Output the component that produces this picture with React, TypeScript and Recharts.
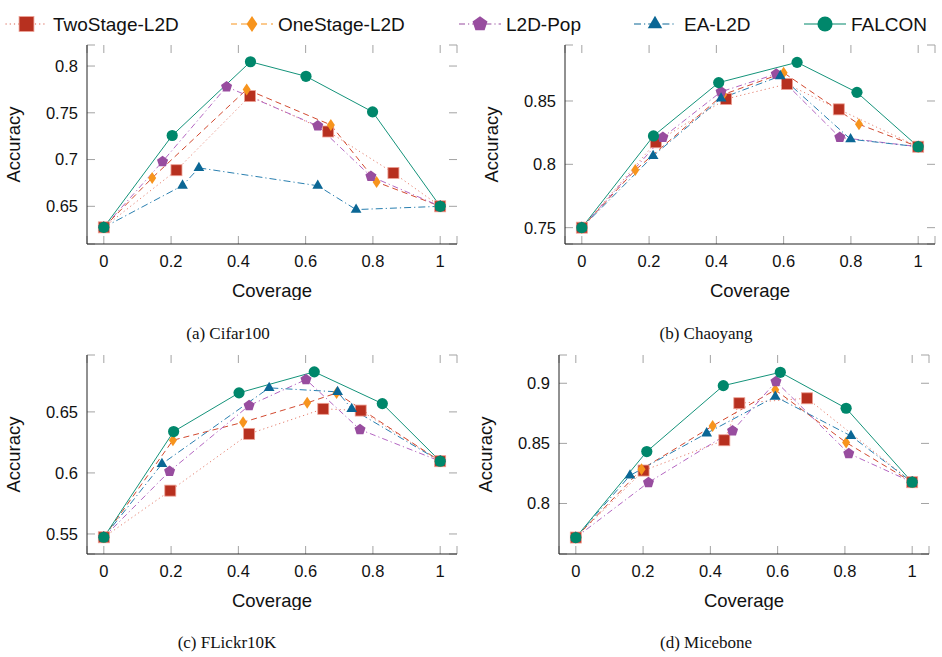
import React from 'react';
import { LineChart, Line, XAxis, YAxis, CartesianGrid } from 'recharts';

type Pt = [number, number];

// Shared coverage axis
const coverageTicks = [0, 0.2, 0.4, 0.6, 0.8, 1];
const coverageDomain: [number, number] = [-0.05, 1.05];

// (a) Cifar100 — [coverage, accuracy]
const cifarTwoStage: Pt[] = [[0, 0.6275], [0.216, 0.6886], [0.4345, 0.7679], [0.667, 0.730], [0.861, 0.6857], [1, 0.65]];
const cifarOneStage: Pt[] = [[0, 0.6275], [0.1438, 0.6804], [0.4247, 0.775], [0.675, 0.737], [0.811, 0.676], [1, 0.65]];
const cifarPop: Pt[] = [[0, 0.6275], [0.1746, 0.6979], [0.365, 0.7779], [0.636, 0.736], [0.794, 0.682], [1, 0.65]];
const cifarEA: Pt[] = [[0, 0.6275], [0.234, 0.6722], [0.2827, 0.6911], [0.636, 0.672], [0.75, 0.6465], [1, 0.65]];
const cifarFalcon: Pt[] = [[0, 0.6275], [0.2033, 0.7257], [0.436, 0.8046], [0.601, 0.789], [0.799, 0.751], [1, 0.65]];
const cifarTicks = [0.65, 0.7, 0.75, 0.8];
const cifarDomain: [number, number] = [0.6097, 0.8225];

// (b) Chaoyang
const chaoyangTwoStage: Pt[] = [[0, 0.75], [0.22, 0.8174], [0.429, 0.8516], [0.61, 0.8634], [0.764, 0.8434], [1, 0.8139]];
const chaoyangOneStage: Pt[] = [[0, 0.75], [0.159, 0.7955], [0.42, 0.855], [0.6, 0.8723], [0.824, 0.8316], [1, 0.8139]];
const chaoyangPop: Pt[] = [[0, 0.75], [0.241, 0.8213], [0.414, 0.8573], [0.578, 0.8713], [0.767, 0.8213], [1, 0.8139]];
const chaoyangEA: Pt[] = [[0, 0.75], [0.212, 0.8066], [0.414, 0.8521], [0.59, 0.8697], [0.799, 0.8198], [1, 0.8139]];
const chaoyangFalcon: Pt[] = [[0, 0.75], [0.213, 0.8224], [0.407, 0.8645], [0.64, 0.8805], [0.818, 0.8568], [1, 0.8139]];
const chaoyangTicks = [0.75, 0.8, 0.85];
const chaoyangDomain: [number, number] = [0.7371, 0.8942];

// (c) FLickr10K
const flickrTwoStage: Pt[] = [[0, 0.5473], [0.1976, 0.5855], [0.432, 0.632], [0.6524, 0.6525], [0.7637, 0.6511], [1, 0.6096]];
const flickrOneStage: Pt[] = [[0, 0.5473], [0.2055, 0.6268], [0.414, 0.6415], [0.6047, 0.6574], [0.692, 0.6655], [1, 0.6096]];
const flickrPop: Pt[] = [[0, 0.5473], [0.1956, 0.6014], [0.432, 0.6552], [0.601, 0.6765], [0.7617, 0.6355], [1, 0.6096]];
const flickrEA: Pt[] = [[0, 0.5473], [0.1728, 0.6074], [0.4915, 0.6697], [0.695, 0.6664], [0.737, 0.6525], [1, 0.6096]];
const flickrFalcon: Pt[] = [[0, 0.5473], [0.2075, 0.6339], [0.402, 0.6656], [0.6256, 0.6828], [0.828, 0.6568], [1, 0.6096]];
const flickrTicks = [0.55, 0.6, 0.65];
const flickrDomain: [number, number] = [0.5336, 0.6966];

// (d) Micebone
const miceTwoStage: Pt[] = [[0, 0.7717], [0.2014, 0.8274], [0.4415, 0.8526], [0.486, 0.8834], [0.6875, 0.8875], [1, 0.8177]];
const miceOneStage: Pt[] = [[0, 0.7717], [0.1954, 0.8285], [0.4067, 0.8645], [0.593, 0.8945], [0.8036, 0.8507], [1, 0.8177]];
const micePop: Pt[] = [[0, 0.7717], [0.216, 0.8175], [0.466, 0.8604], [0.595, 0.9014], [0.8115, 0.8416], [1, 0.8177]];
const miceEA: Pt[] = [[0, 0.7717], [0.161, 0.8233], [0.389, 0.8584], [0.593, 0.8889], [0.818, 0.8562], [1, 0.8177]];
const miceFalcon: Pt[] = [[0, 0.7717], [0.211, 0.8432], [0.4385, 0.898], [0.608, 0.9091], [0.8036, 0.8792], [1, 0.8177]];
const miceTicks = [0.8, 0.85, 0.9];
const miceDomain: [number, number] = [0.758, 0.9235];

const methodNames = ['TwoStage-L2D', 'OneStage-L2D', 'L2D-Pop', 'EA-L2D', 'FALCON'];
const captions = ['(a) Cifar100', '(b) Chaoyang', '(c) FLickr10K', '(d) Micebone'];

const SANS = '"Liberation Sans", Arial, sans-serif';
const SERIF = '"Liberation Serif", "Times New Roman", serif';

type MarkerKind = 'square' | 'diamond' | 'pentagon' | 'triangle' | 'circle';

interface SeriesStyle {
  marker: MarkerKind;
  fill: string;
  line: string;
  legendLine: string;
  dash?: string;
  legendDash?: string;
}

const seriesStyles: SeriesStyle[] = [
  { marker: 'square', fill: '#b7301f', line: '#e5806f', legendLine: '#d9604f', dash: '1.2 3', legendDash: '1.2 3' },
  { marker: 'diamond', fill: '#f7941d', line: '#d24a30', legendLine: '#f7941d', dash: '6 4', legendDash: '6 4' },
  { marker: 'pentagon', fill: '#984d9f', line: '#b466c2', legendLine: '#984d9f', dash: '6 3 1.2 3', legendDash: '6 3 1.2 3' },
  { marker: 'triangle', fill: '#0b6795', line: '#2a7fb0', legendLine: '#0b6795', dash: '7 3 1.2 3', legendDash: '7 3 1.2 3' },
  { marker: 'circle', fill: '#00876b', line: '#14937a', legendLine: '#00876b' },
];

function markerShape(kind: MarkerKind, cx: number, cy: number, fill: string, scale: number, key?: string | number) {
  const s = scale;
  switch (kind) {
    case 'square':
      return <rect key={key} x={cx - 5.5 * s} y={cy - 5.5 * s} width={11 * s} height={11 * s} fill={fill} stroke="#eda094" strokeWidth={0.8} />;
    case 'diamond':
      return (
        <polygon key={key} fill={fill}
          points={`${cx},${cy - 6 * s} ${cx + 4 * s},${cy} ${cx},${cy + 6 * s} ${cx - 4 * s},${cy}`} />
      );
    case 'pentagon': {
      const r = 5.8 * s;
      const pts = [0, 1, 2, 3, 4].map((k) => {
        const a = (-90 + 72 * k) * Math.PI / 180;
        return `${cx + r * Math.cos(a)},${cy + r * Math.sin(a)}`;
      }).join(' ');
      return <polygon key={key} fill={fill} points={pts} />;
    }
    case 'triangle': {
      const r = 6.2 * s;
      const pts = [0, 1, 2].map((k) => {
        const a = (-90 + 120 * k) * Math.PI / 180;
        return `${cx + r * Math.cos(a)},${cy + r * Math.sin(a)}`;
      }).join(' ');
      return <polygon key={key} fill={fill} points={pts} />;
    }
    default:
      return <circle key={key} cx={cx} cy={cy} r={5.6 * s} fill={fill} />;
  }
}

const toRows = (pts: Pt[]) => pts.map(([x, y]) => ({ x, y }));

const TICK_LEN = 8;
const gridHorizontal = (p: any) => {
  const len = Math.abs(p.x2 - p.x1);
  return (
    <line key={`gh-${p.index}`} x1={p.x1} y1={p.y1} x2={p.x2} y2={p.y2} stroke="#a3a3a3" strokeWidth={1}
      strokeDasharray={`${TICK_LEN} ${Math.max(0, len - 2 * TICK_LEN)}`} />
  );
};
const gridVertical = (p: any) => {
  const len = Math.abs(p.y2 - p.y1);
  return (
    <line key={`gv-${p.index}`} x1={p.x1} y1={p.y1} x2={p.x2} y2={p.y2} stroke="#a3a3a3" strokeWidth={1}
      strokeDasharray={`${TICK_LEN} ${Math.max(0, len - 2 * TICK_LEN)}`} />
  );
};

interface PanelProps {
  left: number;
  top: number;
  width: number;
  yAxisWidth: number;
  rightGap: number;
  domain: [number, number];
  ticks: number[];
  series: Pt[][];
}

const CHART_H = 300;
const PLOT_TOP = 45;
const X_AXIS_H = 56;

function Panel({ left, top, width, yAxisWidth, rightGap, domain, ticks, series }: PanelProps) {
  const tickStyle = { fill: '#111', fontSize: 16.5, fontFamily: SANS };
  return (
    <div style={{ position: 'absolute', left, top, width, height: CHART_H }}>
      <LineChart width={width} height={CHART_H} margin={{ top: PLOT_TOP, right: rightGap, bottom: 0, left: 0 }}>
        <CartesianGrid horizontal={gridHorizontal} vertical={gridVertical} />
        <XAxis
          dataKey="x" type="number" domain={coverageDomain} ticks={coverageTicks} allowDataOverflow
          height={X_AXIS_H} tickSize={0} tickMargin={11} tick={tickStyle}
          axisLine={{ stroke: '#222', strokeWidth: 1 }}
          label={(p: any) => {
            const vb = p.viewBox || {};
            return (
              <text x={vb.x + vb.width / 2} y={vb.y + 53} textAnchor="middle" fontSize={18.5} fontFamily={SANS} fill="#111">
                Coverage
              </text>
            );
          }}
        />
        <XAxis xAxisId="top" orientation="top" type="number" domain={coverageDomain} height={0}
          tick={false} tickLine={false} axisLine={{ stroke: '#6a6a6a', strokeWidth: 1 }} />
        <YAxis
          type="number" domain={domain} ticks={ticks} allowDataOverflow width={yAxisWidth}
          tickSize={0} tickMargin={9} tick={tickStyle}
          axisLine={{ stroke: '#222', strokeWidth: 1 }}
          label={(p: any) => {
            const vb = p.viewBox || {};
            const x = vb.x + vb.width - 67;
            const y = vb.y + vb.height / 2;
            return (
              <text x={x} y={y} transform={`rotate(-90 ${x} ${y})`} textAnchor="middle" fontSize={18.5} fontFamily={SANS} fill="#111">
                Accuracy
              </text>
            );
          }}
        />
        <YAxis yAxisId="right" orientation="right" type="number" domain={domain} width={0}
          tick={false} tickLine={false} axisLine={{ stroke: '#6a6a6a', strokeWidth: 1 }} />
        {series.map((pts, i) => {
          const st = seriesStyles[i];
          return (
            <Line
              key={methodNames[i]}
              name={methodNames[i]}
              data={toRows(pts)}
              dataKey="y"
              type="linear"
              stroke={st.line}
              strokeWidth={1}
              strokeDasharray={st.dash}
              isAnimationActive={false}
              activeDot={false}
              dot={(p: any) => {
                if (p.cx == null || p.cy == null) return <g key={`e-${i}-${p.index}`} />;
                return markerShape(st.marker, p.cx, p.cy, st.fill, 1, `m-${i}-${p.index}`);
              }}
            />
          );
        })}
      </LineChart>
    </div>
  );
}

// Legend entry anchors (marker centre, text start)
const legendMarkerX = [26.5, 252, 480, 655, 825];
const legendTextX = [53, 278, 506, 684, 851];

function Overlay() {
  return (
    <svg width={942} height={657} style={{ position: 'absolute', left: 0, top: 0, pointerEvents: 'none' }}>
      {methodNames.map((name, i) => {
        const st = seriesStyles[i];
        const cx = legendMarkerX[i];
        return (
          <g key={name}>
            <line x1={cx - 21} x2={cx + 21} y1={24} y2={24} stroke={st.legendLine} strokeWidth={1.1} strokeDasharray={st.legendDash} />
            {markerShape(st.marker, cx, 24, st.fill, 1.35)}
            <text x={legendTextX[i]} y={31} fontSize={19} fontFamily={SANS} fill="#111">{name}</text>
          </g>
        );
      })}
      <text x={228} y={339} textAnchor="middle" fontSize={17} fontFamily={SERIF} fill="#111">{captions[0]}</text>
      <text x={706} y={339} textAnchor="middle" fontSize={17} fontFamily={SERIF} fill="#111">{captions[1]}</text>
      <text x={227} y={648} textAnchor="middle" fontSize={17} fontFamily={SERIF} fill="#111">{captions[2]}</text>
      <text x={706} y={648} textAnchor="middle" fontSize={17} fontFamily={SERIF} fill="#111">{captions[3]}</text>
    </svg>
  );
}

export default function App() {
  return (
    <div style={{ position: 'absolute', left: 0, top: 0, width: 942, height: 657, background: '#fff', overflow: 'hidden' }}>
      <Panel left={0} top={0} width={470} yAxisWidth={87} rightGap={13} domain={cifarDomain} ticks={cifarTicks}
        series={[cifarTwoStage, cifarOneStage, cifarPop, cifarEA, cifarFalcon]} />
      <Panel left={470} top={0} width={472} yAxisWidth={95} rightGap={7} domain={chaoyangDomain} ticks={chaoyangTicks}
        series={[chaoyangTwoStage, chaoyangOneStage, chaoyangPop, chaoyangEA, chaoyangFalcon]} />
      <Panel left={0} top={310} width={470} yAxisWidth={87} rightGap={13} domain={flickrDomain} ticks={flickrTicks}
        series={[flickrTwoStage, flickrOneStage, flickrPop, flickrEA, flickrFalcon]} />
      <Panel left={470} top={310} width={472} yAxisWidth={89} rightGap={13} domain={miceDomain} ticks={miceTicks}
        series={[miceTwoStage, miceOneStage, micePop, miceEA, miceFalcon]} />
      <Overlay />
    </div>
  );
}
